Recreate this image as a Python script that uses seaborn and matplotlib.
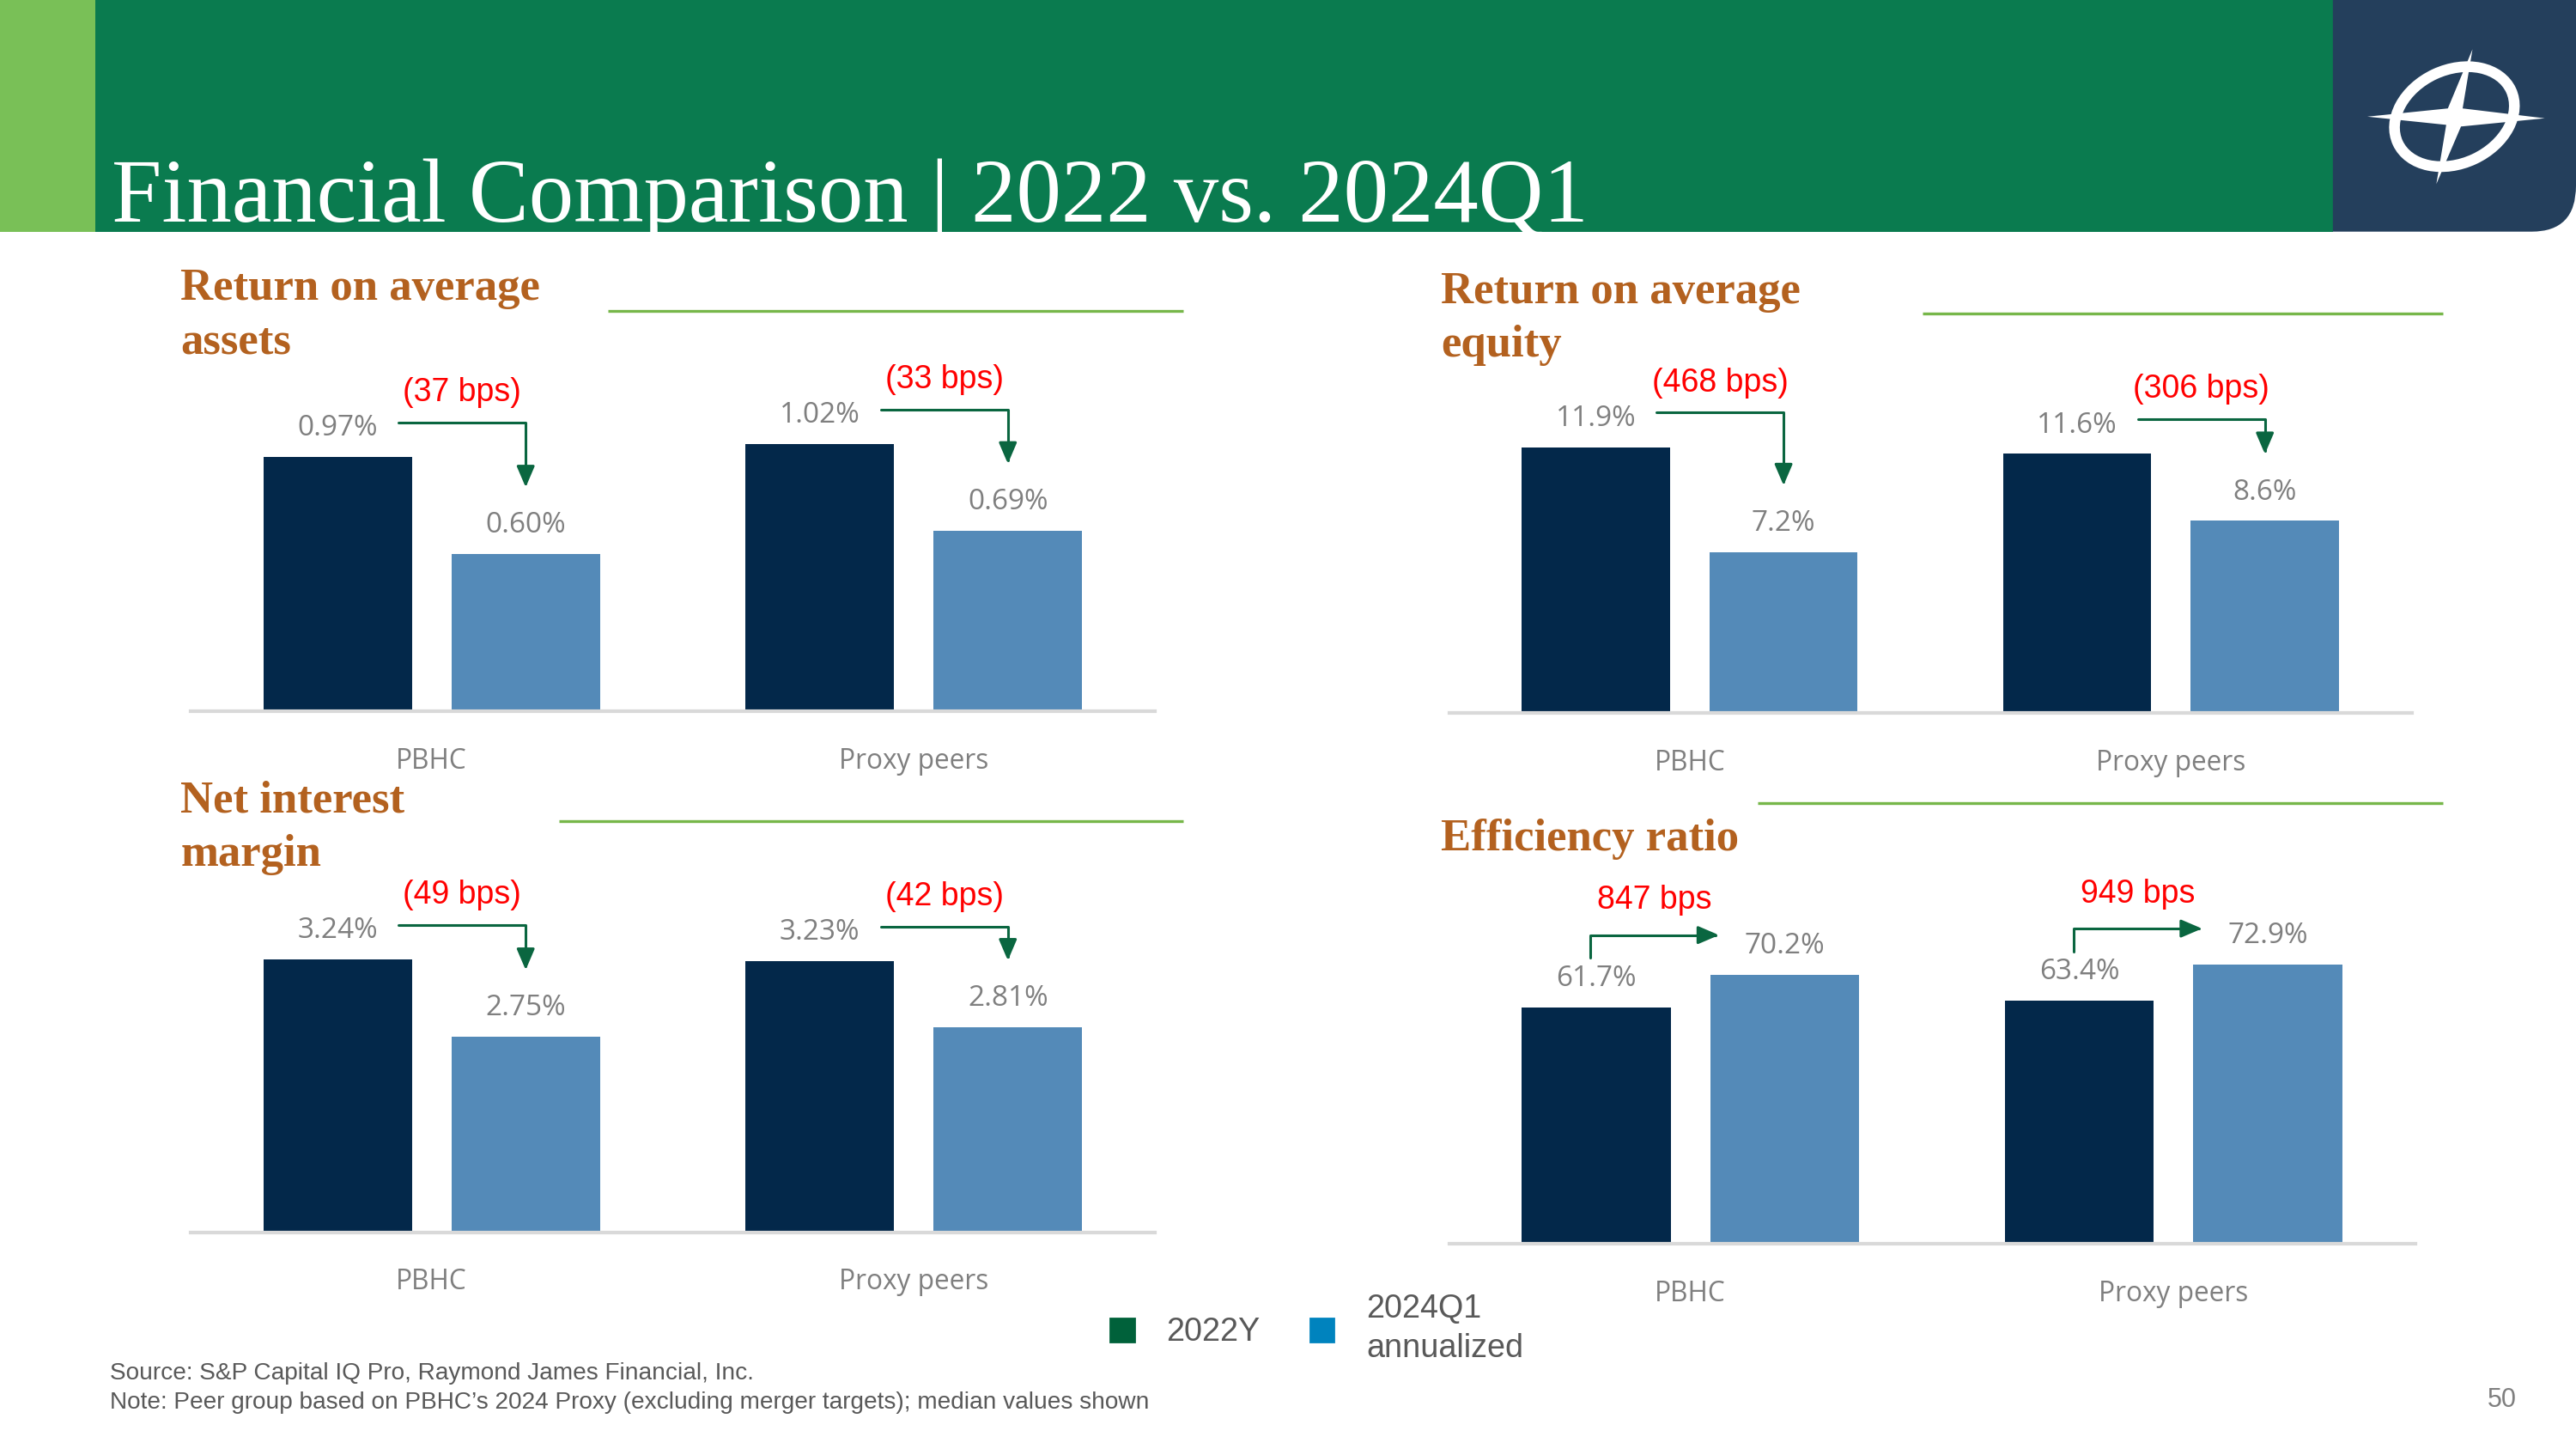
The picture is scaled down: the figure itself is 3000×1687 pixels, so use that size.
import numpy as np
import pandas as pd
import matplotlib.pyplot as plt
import seaborn as sns
from matplotlib.patches import Rectangle, Ellipse, PathPatch, Polygon, FancyArrowPatch, Patch
from matplotlib.path import Path

# ---- data ----
groups = ["PBHC", "Proxy peers"]
periods = ["2022Y", "2024Q1 annualized"]

roaa_2022 = [0.97, 1.02]
roaa_2024 = [0.60, 0.69]
roae_2022 = [11.9, 11.6]
roae_2024 = [7.2, 8.6]
nim_2022 = [3.24, 3.23]
nim_2024 = [2.75, 2.81]
eff_2022 = [61.7, 63.4]
eff_2024 = [70.2, 72.9]

roaa_change = ["(37 bps)", "(33 bps)"]
roae_change = ["(468 bps)", "(306 bps)"]
nim_change = ["(49 bps)", "(42 bps)"]
eff_change = ["847 bps", "949 bps"]

# ---- style ----
NAVY = "#03284A"
STEEL = "#548AB8"
BROWN = "#B3611F"
LGREEN = "#77B74A"
ARROW = "#0A6640"
GRAY = "#7F7F7F"
DGRAY = "#595959"

sns.set_style("white")
plt.rcParams["font.family"] = ["Liberation Sans", "DejaVu Sans"]

DPI = 200
W, H = 1568, 882          # design grid (px of the slide)
PT = DPI / 72.0

fig = plt.figure(figsize=(15, 15 * 1687 / 3000), dpi=DPI)

# background / header layer in design px
bg = fig.add_axes([0, 0, 1, 1])
bg.set_xlim(0, W)
bg.set_ylim(H, 0)
bg.axis("off")

bg.add_patch(Rectangle((0, 0), 58, 141, color="#79C057", lw=0))
bg.add_patch(Rectangle((58, 0), 1362, 141, color="#0A7B4F", lw=0))
verts = [(1420, 0), (1568, 0), (1568, 113), (1568, 141), (1541, 141), (1420, 141), (1420, 0)]
codes = [Path.MOVETO, Path.LINETO, Path.LINETO, Path.CURVE3, Path.CURVE3, Path.LINETO, Path.CLOSEPOLY]
bg.add_patch(PathPatch(Path(verts, codes), color="#243F5C", lw=0))

# compass logo
bg.add_patch(Ellipse((1494, 71), 76, 57, angle=-25, fill=False, ec="white", lw=4.5))
star = [(1505, 30), (1499, 66), (1549, 72), (1498, 77), (1483, 112), (1489, 76), (1441, 71), (1490, 66)]
bg.add_patch(Polygon(star, closed=True, color="white", lw=0))

bg.text(68, 135, "Financial Comparison | 2022 vs. 2024Q1", color="white",
        fontsize=37.7, family="Liberation Serif", va="baseline", ha="left")

# footer
bg.text(67, 836, "Source: S&P Capital IQ Pro, Raymond James Financial, Inc.",
        fontsize=10.1, color=DGRAY, va="center")
bg.text(67, 854, "Note: Peer group based on PBHC\u2019s 2024 Proxy (excluding merger targets); median values shown",
        fontsize=10.1, color=DGRAY, va="center")
bg.text(1532, 852, "50", fontsize=11, color=GRAY, va="center", ha="right")


def box(l, r, b, t):
    return [l / W, 1 - b / H, (r - l) / W, (b - t) / H]


def to_fig(p):
    return fig.transFigure.inverted().transform(p)


def disp(ax, x, y, dx=0, dy=0):
    X, Y = ax.transData.transform((x, y))
    return np.array([X + dx * PT, Y + dy * PT])


def arrow(pts):
    fp = [tuple(to_fig(p)) for p in pts]
    fig.add_artist(FancyArrowPatch(path=Path(fp), transform=fig.transFigure,
                                   arrowstyle="-|>,head_length=0.75,head_width=0.32",
                                   mutation_scale=10, color=ARROW, lw=1.1))


def red_label(p, text):
    fp = to_fig(p)
    fig.text(fp[0], fp[1], text, color="#FF0000", fontsize=13.5, ha="center", va="center")


panels = [
    dict(title="Return on average\nassets", v22=roaa_2022, v24=roaa_2024, fmt="{:.2f}%",
         change=roaa_change, pos=(116, 703, 433, 225), ylim=(0, 1.304),
         tpos=(110, 163), line=(370, 720, 189), rise=False),
    dict(title="Return on average\nequity", v22=roae_2022, v24=roae_2024, fmt="{:.1f}%",
         change=roae_change, pos=(882, 1468, 434, 225), ylim=(0, 15.37),
         tpos=(877, 165), line=(1170, 1487, 191), rise=False),
    dict(title="Net interest\nmargin", v22=nim_2022, v24=nim_2024, fmt="{:.2f}%",
         change=nim_change, pos=(116, 703, 750, 540), ylim=(1.51, 3.70),
         tpos=(110, 475), line=(340, 720, 500), rise=False),
    dict(title="Efficiency ratio", v22=eff_2022, v24=eff_2024, fmt="{:.1f}%",
         change=eff_change, pos=(882, 1470, 757, 540), ylim=(0, 93.1),
         tpos=(877, 498), line=(1070, 1487, 489), rise=True),
]

for p in panels:
    df = pd.DataFrame({
        "group": groups * 2,
        "period": [periods[0]] * 2 + [periods[1]] * 2,
        "value": p["v22"] + p["v24"],
    })
    ax = fig.add_axes(box(*p["pos"]))
    ax.set_facecolor("none")
    sns.barplot(data=df, x="group", y="value", hue="period", palette=[NAVY, STEEL],
                width=0.78, gap=0.21, saturation=1, linewidth=0, errorbar=None,
                legend=False, ax=ax)
    ax.set_xlim(-0.5, 1.5)
    ax.set_ylim(*p["ylim"])
    ax.set_xlabel("")
    ax.set_ylabel("")
    ax.set_yticks([])
    for s in ["top", "left", "right"]:
        ax.spines[s].set_visible(False)
    ax.spines["bottom"].set_color("#D9D9D9")
    ax.spines["bottom"].set_linewidth(1.5)
    ax.tick_params(axis="x", length=0, pad=15, labelsize=11.4, labelcolor=GRAY)
    for lab in ax.get_xticklabels():
        lab.set_family("Open Sans")

    c22, c24 = ax.containers[0], ax.containers[1]
    for cont in (c22, c24):
        for bar in cont:
            h = bar.get_height()
            ax.annotate(p["fmt"].format(h), xy=(bar.get_x() + bar.get_width() / 2, h),
                        xytext=(0, 12), textcoords="offset points", ha="center", va="center",
                        fontsize=12, color=GRAY, family="Open Sans")

    for i in range(2):
        b1, b2 = c22[i], c24[i]
        x1 = b1.get_x() + b1.get_width() / 2
        x2 = b2.get_x() + b2.get_width() / 2
        h1, h2 = b1.get_height(), b2.get_height()
        if not p["rise"]:
            start = disp(ax, x1, h1, dx=25.5, dy=14.5)
            corner = np.array([disp(ax, x2, h2)[0], start[1]])
            tip = disp(ax, x2, h2, dy=28)
            arrow([start, corner, tip])
            red_label(((start[0] + corner[0]) / 2, start[1] + 12.5 * PT), p["change"][i])
        else:
            start = disp(ax, x1, h1, dx=-2.5, dy=20.7)
            corner = disp(ax, x1, h1, dx=-2.5, dy=30.3)
            tip = np.array([disp(ax, x2, h2, dx=-27.5)[0], corner[1]])
            arrow([start, corner, tip])
            red_label(((corner[0] + tip[0]) / 2, corner[1] + 14.5 * PT), p["change"][i])

    bg.text(p["tpos"][0], p["tpos"][1], p["title"], color=BROWN, fontsize=19,
            family="Liberation Serif", weight="bold", ha="left", va="top", linespacing=1.4)
    l0, l1, ly = p["line"]
    bg.plot([l0, l1], [ly, ly], color=LGREEN, lw=1.2, solid_capstyle="butt")

# legend
handles = [Patch(color="#00613A"), Patch(color="#0083BE")]
leg = fig.legend(handles, ["2022Y", "2024Q1\nannualized"], loc="center left",
                 bbox_to_anchor=(676 / W, 1 - 809 / H), ncol=2, frameon=False,
                 fontsize=13.6, labelcolor=DGRAY, handlelength=0.72, handleheight=0.72,
                 handletextpad=1.0, columnspacing=1.55, borderaxespad=0, borderpad=0)
for t in leg.get_texts():
    t.set_linespacing(1.35)

fig.savefig("out.png", dpi=DPI)
